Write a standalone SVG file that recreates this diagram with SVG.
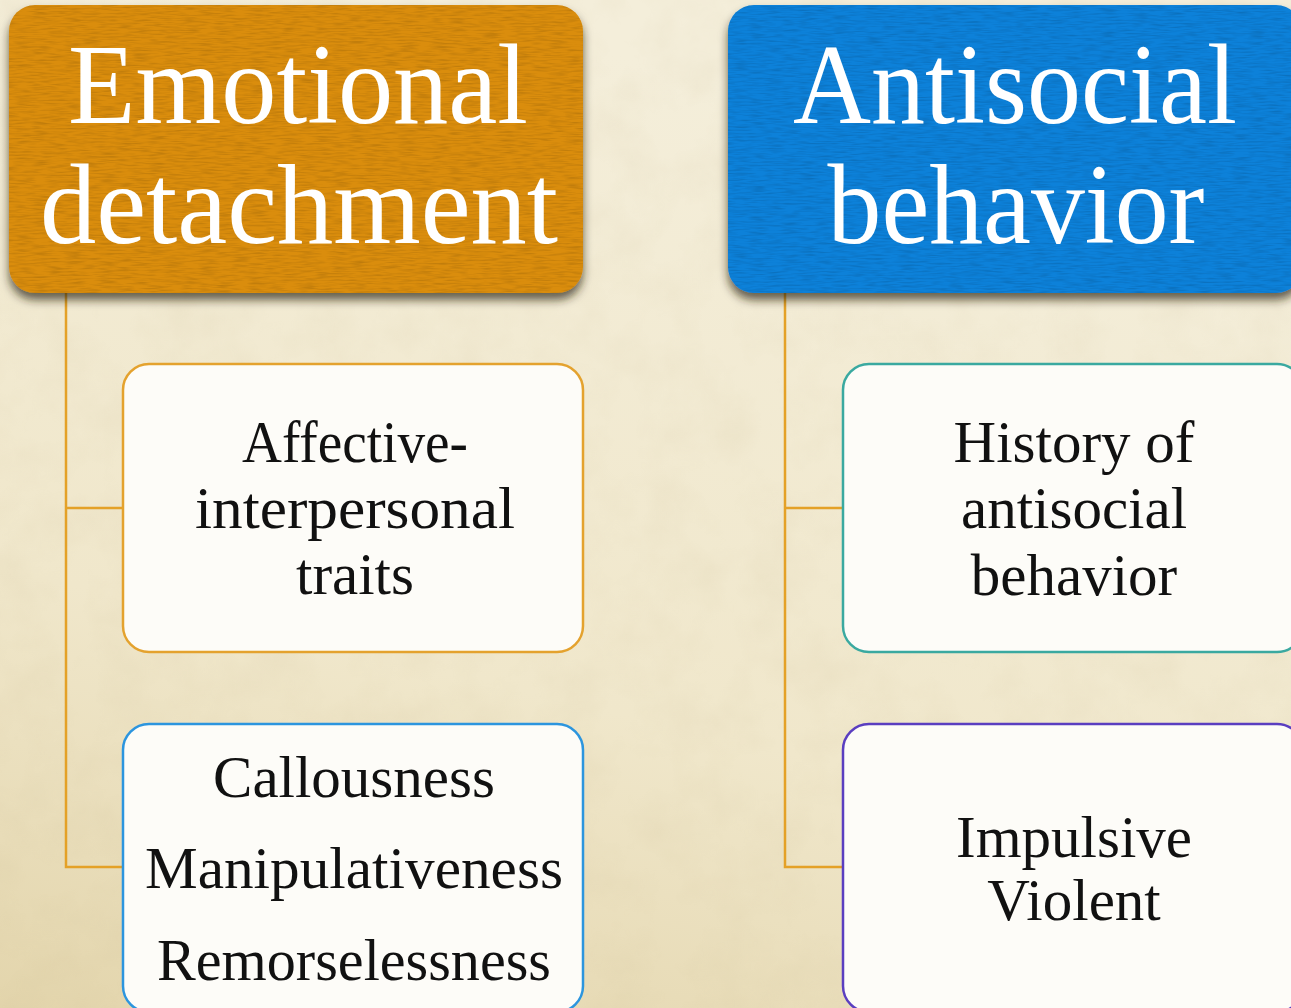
<svg xmlns="http://www.w3.org/2000/svg" width="1291" height="1008" viewBox="0 0 1291 1008">
<defs>
<linearGradient id="bg" x1="0.3" y1="0" x2="0" y2="1">
<stop offset="0" stop-color="#F4EEDA"/>
<stop offset="0.6" stop-color="#F0E7CB"/>
<stop offset="1" stop-color="#E3D5AC"/>
</linearGradient>
<filter id="paper" x="0" y="0" width="100%" height="100%">
<feTurbulence type="fractalNoise" baseFrequency="0.02" numOctaves="4" seed="4" result="n"/>
<feColorMatrix in="n" type="matrix" values="0 0 0 0 0.55  0 0 0 0 0.45  0 0 0 0 0.25  0 0 0 -1.2 0.75" result="c"/>
<feComposite in="c" in2="SourceGraphic" operator="in"/>
</filter>
<filter id="grain" x="0" y="0" width="100%" height="100%">
<feTurbulence type="fractalNoise" baseFrequency="0.06 0.6" numOctaves="2" seed="7" result="n"/>
<feColorMatrix in="n" type="matrix" values="0 0 0 0 0  0 0 0 0 0  0 0 0 0 0  0 0 0 -2.2 1.3" result="c"/>
<feComposite in="c" in2="SourceGraphic" operator="in"/>
</filter>
<filter id="shadow" x="-5%" y="-5%" width="110%" height="125%">
<feDropShadow dx="0" dy="7" stdDeviation="5" flood-color="#2a2010" flood-opacity="0.7"/>
</filter>
<style>
.hdr-text{font-family:"Liberation Serif","DejaVu Serif",serif;font-size:114px;fill:#ffffff;text-anchor:middle}
.box{fill:#FDFCF8;stroke-width:2.5}
.box-text{font-family:"Liberation Serif","DejaVu Serif",serif;font-size:59px;fill:#111111;text-anchor:middle}
.conn{fill:none;stroke:#E4A127;stroke-width:2.5}
</style>
</defs>
<rect width="1291" height="1008" fill="url(#bg)"/>
<rect width="1291" height="1008" fill="#000" filter="url(#paper)" opacity="0.15"/>

<g id="connectors">
<path class="conn" d="M66 293 V867 H124 M66 508 H124"/>
<path class="conn" d="M785 293 V867 H843 M785 508 H843"/>
</g>

<g id="header-emotional">
<rect x="9" y="5" width="574" height="288" rx="26" fill="#DA8D0D" filter="url(#shadow)"/>
<rect x="9" y="5" width="574" height="288" rx="26" fill="#000" filter="url(#grain)" opacity="0.12"/>
<text class="hdr-text" x="298" y="123" textLength="460" lengthAdjust="spacingAndGlyphs">Emotional</text>
<text class="hdr-text" x="299" y="243" textLength="518" lengthAdjust="spacingAndGlyphs">detachment</text>
</g>

<g id="header-antisocial">
<rect x="728" y="5" width="574" height="288" rx="26" fill="#0C81D9" filter="url(#shadow)"/>
<rect x="728" y="5" width="574" height="288" rx="26" fill="#000" filter="url(#grain)" opacity="0.12"/>
<text class="hdr-text" x="1015" y="123" textLength="444" lengthAdjust="spacingAndGlyphs">Antisocial</text>
<text class="hdr-text" x="1016" y="243" textLength="377" lengthAdjust="spacingAndGlyphs">behavior</text>
</g>

<g id="box-affective">
<rect class="box" x="123" y="364" width="460" height="288" rx="26" stroke="#E4A22E"/>
<text class="box-text" x="355" y="462" textLength="226" lengthAdjust="spacingAndGlyphs">Affective-</text>
<text class="box-text" x="355" y="528" textLength="320" lengthAdjust="spacingAndGlyphs">interpersonal</text>
<text class="box-text" x="355" y="594">traits</text>
</g>

<g id="box-callousness">
<rect class="box" x="123" y="724" width="460" height="288" rx="26" stroke="#2C95DE"/>
<text class="box-text" x="354" y="797">Callousness</text>
<text class="box-text" x="354" y="888" textLength="418" lengthAdjust="spacingAndGlyphs">Manipulativeness</text>
<text class="box-text" x="354" y="980" textLength="394" lengthAdjust="spacingAndGlyphs">Remorselessness</text>
</g>

<g id="box-history">
<rect class="box" x="843" y="364" width="460" height="288" rx="26" stroke="#3AA9A0"/>
<text class="box-text" x="1074" y="462">History of</text>
<text class="box-text" x="1074" y="528">antisocial</text>
<text class="box-text" x="1074" y="595">behavior</text>
</g>

<g id="box-impulsive">
<rect class="box" x="843" y="724" width="460" height="288" rx="26" stroke="#5A3EC0"/>
<text class="box-text" x="1074" y="857">Impulsive</text>
<text class="box-text" x="1074" y="920">Violent</text>
</g>
</svg>
